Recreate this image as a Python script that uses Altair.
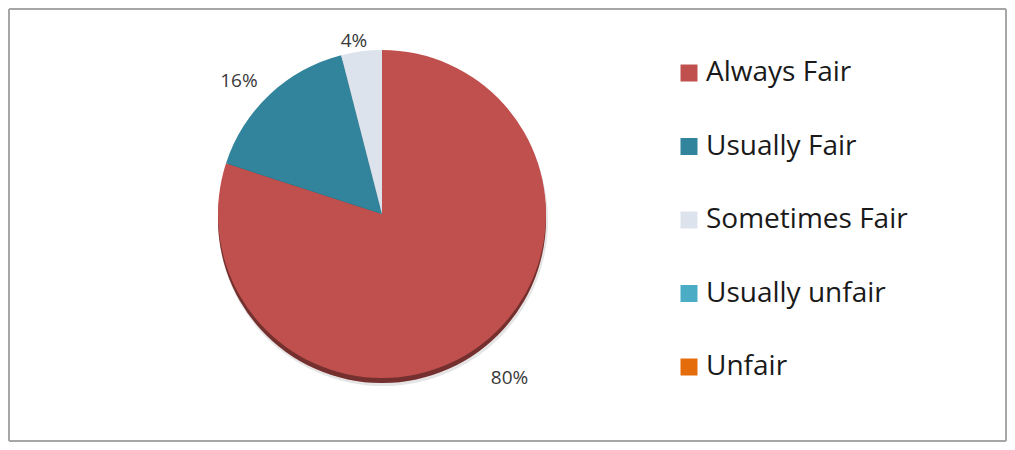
import altair as alt
import pandas as pd

categories = ["Always Fair", "Usually Fair", "Sometimes Fair", "Usually unfair", "Unfair"]
values = [80, 16, 4, 0, 0]
labels = ["80%", "16%", "4%", "", ""]
colors = ["#C0504D", "#31849B", "#DCE3EC", "#4BACC6", "#E46C0A"]

df = pd.DataFrame({
    "category": categories,
    "value": values,
    "label": labels,
    "idx": list(range(len(categories))),
})

W, H = 999, 434
CX, CY, R = 374, 206, 164

color = alt.Color(
    "category:N",
    scale=alt.Scale(domain=categories, range=colors),
    sort=categories,
    legend=alt.Legend(
        title=None,
        orient="none",
        legendX=667,
        legendY=51,
        symbolType="square",
        symbolSize=289,
        symbolStrokeWidth=0,
        labelFontSize=28,
        labelFont="Open Sans",
        labelColor="#1a1a1a",
        rowPadding=45.5,
        labelOffset=3,
        padding=0,
        labelLimit=400,
    ),
)

base = alt.Chart(df).encode(
    theta=alt.Theta("value:Q", stack=True),
    order=alt.Order("idx:Q"),
)

frame_style = dict(color="#A6A6A6", strokeWidth=2)
frame = alt.layer(
    alt.Chart(df).mark_rule(**frame_style).encode(x=alt.value(1), x2=alt.value(W - 1), y=alt.value(1)),
    alt.Chart(df).mark_rule(**frame_style).encode(x=alt.value(1), x2=alt.value(W - 1), y=alt.value(H - 1)),
    alt.Chart(df).mark_rule(**frame_style).encode(y=alt.value(1), y2=alt.value(H - 1), x=alt.value(1)),
    alt.Chart(df).mark_rule(**frame_style).encode(y=alt.value(1), y2=alt.value(H - 1), x=alt.value(W - 1)),
)

shadow = base.mark_arc(radius=R + 1, x=CX + 1, y=CY + 7, fill="#888888", opacity=0.22).encode(
    detail="category:N"
)
rim = base.mark_arc(radius=R, x=CX, y=CY + 5).encode(color=color)
rim_dark = base.mark_arc(radius=R, x=CX, y=CY + 5, fill="black", opacity=0.4).encode(
    detail="category:N"
)
pie = base.mark_arc(radius=R, x=CX, y=CY).encode(color=color)

text = alt.Chart(df).transform_window(
    cum="sum(value)", sort=[alt.SortField("idx")]
).transform_joinaggregate(total="sum(value)").transform_calculate(
    mid="(datum.cum - datum.value / 2) / datum.total * 2 * PI"
)


def lab(cat, radius, dx, dy):
    return text.transform_filter(alt.datum.category == cat).mark_text(
        radius=radius, x=CX, y=CY, dx=dx, dy=dy,
        fontSize=19, font="Open Sans", color="#3a3a3a"
    ).encode(
        theta=alt.Theta("mid:Q", scale=None),
        text="label:N",
    )


chart = alt.layer(
    frame, shadow, rim, rim_dark, pie,
    lab("Always Fair", 205, 7, -2),
    lab("Usually Fair", 190, -13, 6),
    lab("Sometimes Fair", 176, -6, 2),
).properties(
    width=W, height=H, padding=0, autosize="none"
).configure_view(stroke=None)

chart.save("out.html", embed_options={"renderer": "svg", "actions": False})
